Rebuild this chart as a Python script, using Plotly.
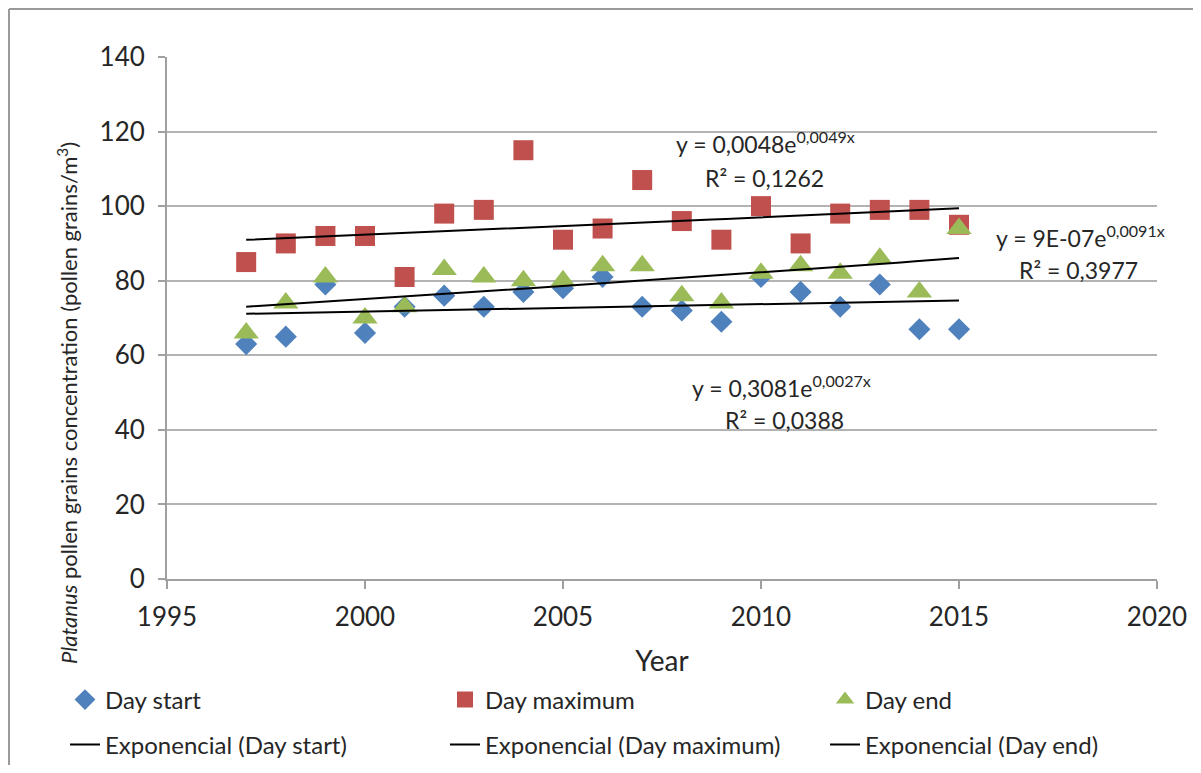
import numpy as np
import plotly.graph_objects as go

years = [1997, 1998, 1999, 2000, 2001, 2002, 2003, 2004, 2005, 2006,
         2007, 2008, 2009, 2010, 2011, 2012, 2013, 2014, 2015]
day_start = [63, 65, 79, 66, 73, 76, 73, 77, 78, 81, 73, 72, 69, 81, 77, 73, 79, 67, 67]
day_maximum = [85, 90, 92, 92, 81, 98, 99, 115, 91, 94, 107, 96, 91, 100, 90, 98, 99, 99, 95]
day_end = [66, 74, 81, 70, 73, 83, 81, 80, 80, 84, 84, 76, 74, 82, 84, 82, 86, 77, 94]

series_names = ["Day start", "Day maximum", "Day end"]
series_colors = ["#4F81BD", "#C0504D", "#9BBB59"]
series_symbols = ["diamond", "square", "triangle-up"]
series_sizes = [17, 20, 22]
eq_texts = [("y = 0,3081e<sup>0,0027x</sup>", "R² = 0,0388"),
            ("y = 0,0048e<sup>0,0049x</sup>", "R² = 0,1262"),
            ("y = 9E-07e<sup>0,0091x</sup>", "R² = 0,3977")]

x_ticks = [1995, 2000, 2005, 2010, 2015, 2020]
y_ticks = [0, 20, 40, 60, 80, 100, 120, 140]

FONT = "Lato"
TXT = "#262626"

fig = go.Figure()
data = [day_start, day_maximum, day_end]
for name, vals, col, sym, sz in zip(series_names, data, series_colors, series_symbols, series_sizes):
    fig.add_trace(go.Scatter(x=years, y=vals, mode="markers", name=name,
                             marker=dict(color=col, symbol=sym, size=sz, line=dict(width=0)),
                             legend="legend"))

xa = np.array(years, dtype=float)
for name, vals in zip(series_names, data):
    b, ln_a = np.polyfit(xa, np.log(np.array(vals, dtype=float)), 1)
    xs = np.linspace(xa.min(), xa.max(), 50)
    ys = np.exp(ln_a + b * xs)
    fig.add_trace(go.Scatter(x=xs, y=ys, mode="lines", name=f"Exponencial ({name})",
                             line=dict(color="black", width=2), legend="legend2"))

# page body has an 8px margin: work in reference pixels, shift by OFF
OFF = 8
W, H = 1201 - 2 * OFF, 773 - 2 * OFF
PL, PR, PT, PB = 167, 1157, 57, 579   # plot area in reference pixels
L, T = PL - OFF, PT - OFF
R, B = W - (PR - OFF), H - (PB - OFF)
pw, ph = PR - PL, PB - PT

def px(xp):
    return (xp - PL) / pw

def py(yp):
    return (PB - yp) / ph

# equation annotations (positions, in its pixels)
eq_pos = [(781, 404, 784, 420), (765, 160, 764, 178), (1080, 254, 1078, 270)]
for (eq, r2), (x1, y1, x2, y2) in zip(eq_texts, eq_pos):
    fig.add_annotation(text=eq, x=px(x1), y=py(y1), xref="paper", yref="paper",
                       xanchor="center", yanchor="bottom", showarrow=False,
                       font=dict(family=FONT, size=23, color=TXT))
    fig.add_annotation(text=r2, x=px(x2), y=py(y2), xref="paper", yref="paper",
                       xanchor="center", yanchor="middle", showarrow=False,
                       font=dict(family=FONT, size=23, color=TXT))

# y-axis title
fig.add_annotation(text="<i>Platanus</i> pollen grains concentration (pollen grains/m<sup>3</sup>)",
                   x=px(67), y=py(403), xref="paper", yref="paper", textangle=-90,
                   xanchor="center", yanchor="middle",
                   showarrow=False, font=dict(family=FONT, size=22, color=TXT))

# chart frame (left and top edges visible)
fig.add_shape(type="line", xref="paper", yref="paper", x0=px(9), x1=px(1215), y0=py(9), y1=py(9),
              line=dict(color="#9a9a9a", width=2))
fig.add_shape(type="line", xref="paper", yref="paper", x0=px(9), x1=px(9), y0=py(9), y1=py(790),
              line=dict(color="#9a9a9a", width=2))

fig.update_layout(
    width=W, height=H,
    margin=dict(l=L, r=R, t=T, b=B, autoexpand=False),
    paper_bgcolor="white", plot_bgcolor="white",
    font=dict(family=FONT, size=21, color=TXT),
    xaxis=dict(range=[1995, 2020], tickvals=x_ticks, showgrid=False, zeroline=False,
               showline=True, linecolor="#a0a0a0", linewidth=2,
               ticks="outside", ticklen=8, tickwidth=2, tickcolor="#a0a0a0",
               ticklabelstandoff=6,
               tickfont=dict(family=FONT, size=26, color=TXT),
               title=dict(text="Year", font=dict(family=FONT, size=28, color=TXT), standoff=20)),
    yaxis=dict(range=[0, 140], tickvals=y_ticks, showgrid=True, gridcolor="#b3b3b3", gridwidth=2,
               zeroline=False, showline=True, linecolor="#a0a0a0", linewidth=2,
               ticks="outside", ticklen=7, tickwidth=2, tickcolor="#a0a0a0",
               ticklabelstandoff=8,
               tickfont=dict(family=FONT, size=26, color=TXT)),
    legend=dict(orientation="h", x=px(65), y=py(700), xanchor="left", yanchor="middle",
                entrywidth=335, entrywidthmode="pixels", bgcolor="rgba(0,0,0,0)",
                font=dict(family=FONT, size=24, color=TXT)),
    legend2=dict(orientation="h", x=px(65), y=py(745), xanchor="left", yanchor="middle",
                 entrywidth=335, entrywidthmode="pixels", bgcolor="rgba(0,0,0,0)",
                 font=dict(family=FONT, size=24, color=TXT)),
)

fig.write_html("out.html")
